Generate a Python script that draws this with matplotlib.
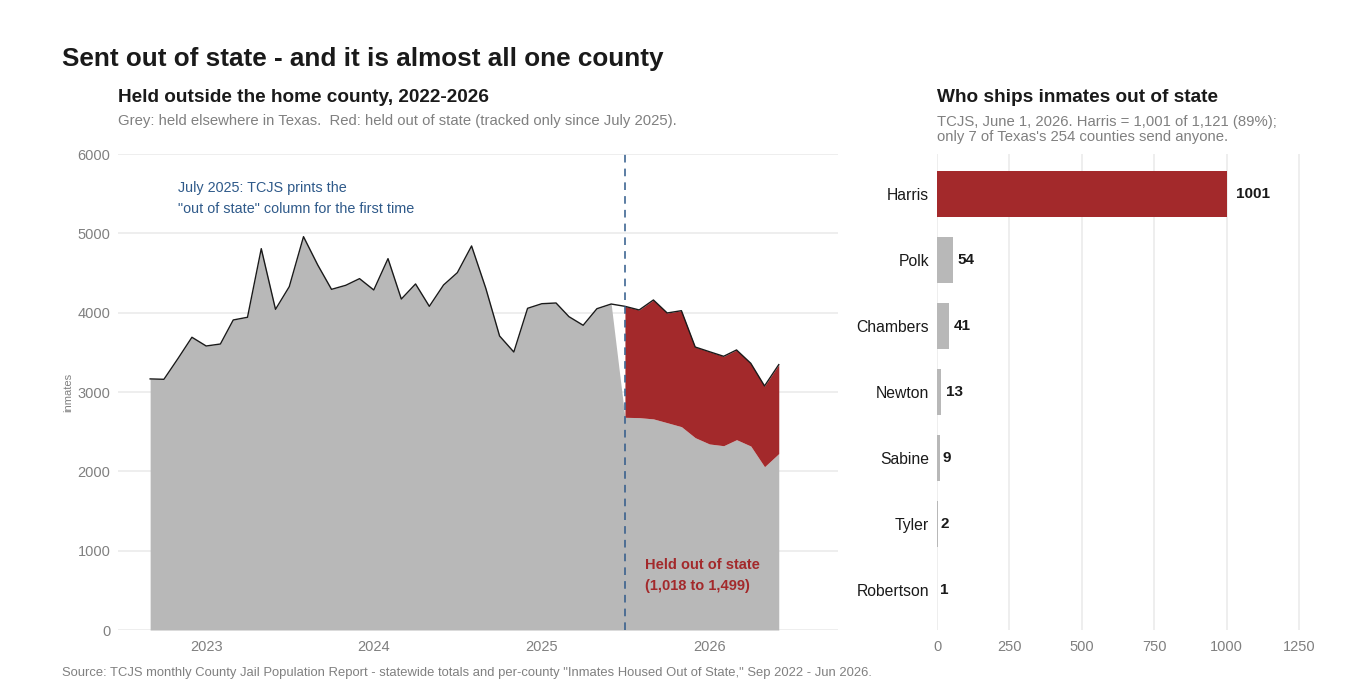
import pandas as pd
import numpy as np
import matplotlib
matplotlib.use("Agg")
import matplotlib.pyplot as plt
import matplotlib.dates as mdates

plt.rcParams['font.family'] = ['Liberation Sans', 'DejaVu Sans']

# Monthly statewide "held outside home county", Sep 2022 - Jun 2026
months = pd.date_range("2022-09-01", periods=46, freq="MS")
total_outside = [3165, 3160, 3425, 3690,
                 3580, 3605, 3908, 3942, 4807, 4042, 4328, 4958, 4601, 4294, 4345, 4429,
                 4286, 4681, 4172, 4362, 4080, 4349, 4504, 4841, 4307, 3706, 3504, 4055,
                 4113, 4122, 3950, 3841, 4050, 4109, 4080, 4034, 4160, 3996, 4025, 3567,
                 3508, 3450, 3530, 3362, 3076, 3345]
# out-of-state column, tracked from July 2025
oos_start = "2025-07-01"
out_of_state = [1399, 1357, 1499, 1383, 1462, 1143, 1163, 1127, 1131, 1043, 1018, 1121]

# counties shipping inmates out of state, June 1 2026
counties = ["Harris", "Polk", "Chambers", "Newton", "Sabine", "Tyler", "Robertson"]
county_counts = [1001, 54, 41, 13, 9, 2, 1]

GREY = "#b8b8b8"
RED = "#a3292b"
BLUE = "#2f5a8a"
GRID = "#ebebeb"
TICK = "#808080"

df = pd.DataFrame({"month": months, "total": total_outside})
df["oos"] = np.nan
oos_idx = df.index[df["month"] >= pd.Timestamp(oos_start)]
df.loc[oos_idx, "oos"] = out_of_state
df["grey"] = np.where(df["oos"].isna(), df["total"], df["total"] - df["oos"])

fig = plt.figure(figsize=(13.6, 6.96), dpi=100)
ax = fig.add_axes([118 / 1360, 1 - 630 / 696, 720 / 1360, 476 / 696])
ax2 = fig.add_axes([937 / 1360, 1 - 630 / 696, 365 / 1360, 476 / 696])

# left panel: area chart
ax.fill_between(df["month"], 0, df["grey"], color=GREY, linewidth=0, zorder=2)
red = df.loc[oos_idx]
ax.fill_between(red["month"], red["grey"], red["total"], color=RED, linewidth=0, zorder=2)
ax.plot(df["month"], df["total"], color="#1a1a1a", linewidth=1.0, zorder=3)
ax.axvline(pd.Timestamp(oos_start), color=BLUE, linestyle=(0, (5, 4)), linewidth=1.1, zorder=4)

ax.set_xlim(pd.Timestamp("2022-06-23"), pd.Timestamp("2026-10-08"))
ax.set_ylim(0, 6000)
ax.set_yticks(range(0, 6001, 1000))
ax.xaxis.set_major_locator(mdates.YearLocator())
ax.xaxis.set_major_formatter(mdates.DateFormatter("%Y"))
ax.grid(axis="y", color=GRID, linewidth=1.2, zorder=0)
ax.grid(axis="x", visible=False)
ax.set_axisbelow(True)
for s in ax.spines.values():
    s.set_visible(False)
ax.tick_params(length=0, colors=TICK, labelsize=10.5)
ax.tick_params(axis="y", pad=5.5)
ax.tick_params(axis="x", pad=7)
ax.set_ylabel("inmates", color=TICK, fontsize=8, labelpad=3)

ax.text(pd.Timestamp("2022-11-01"), 5440, "July 2025: TCJS prints the\n\"out of state\" column for the first time",
        color=BLUE, fontsize=10.4, va="center", ha="left", linespacing=1.6)
ax.text(pd.Timestamp("2025-08-14"), 690, "Held out of state\n(1,018 to 1,499)",
        color=RED, fontsize=10.5, fontweight="bold", va="center", ha="left", linespacing=1.62)

# right panel: counties
ypos = np.arange(len(counties))
colors = [RED] + [GREY] * (len(counties) - 1)
ax2.barh(ypos, county_counts, height=0.7, color=colors, zorder=2)
for y, v in zip(ypos, county_counts):
    ax2.annotate(str(v), (v, y), xytext=(0.4 + 1.6 * len(str(v)), 0), textcoords="offset points",
                 va="center", ha="left", fontsize=11, fontweight="bold", color="#1a1a1a")
ax2.set_yticks(ypos)
ax2.set_yticklabels(counties)
ax2.set_ylim(len(counties) - 0.4, -0.6)
ax2.set_xlim(0, 1260)
ax2.set_xticks([0, 250, 500, 750, 1000, 1250])
ax2.grid(axis="x", color=GRID, linewidth=1.2, zorder=0)
ax2.grid(axis="y", visible=False)
ax2.set_axisbelow(True)
for s in ax2.spines.values():
    s.set_visible(False)
ax2.tick_params(axis="x", length=0, colors=TICK, labelsize=10.5, pad=7)
ax2.tick_params(axis="y", length=0, labelsize=11.3, labelcolor="#1a1a1a", pad=5.8)

# titles
fig.text(62 / 1360, 1 - 59 / 696, "Sent out of state - and it is almost all one county",
         fontsize=18.8, fontweight="bold", color="#1a1a1a", va="center", ha="left")
fig.text(118 / 1360, 1 - 97 / 696, "Held outside the home county, 2022-2026",
         fontsize=13.7, fontweight="bold", color="#1a1a1a", va="center", ha="left")
fig.text(118 / 1360, 1 - 121 / 696,
         "Grey: held elsewhere in Texas.  Red: held out of state (tracked only since July 2025).",
         fontsize=10.7, color=TICK, va="center", ha="left")
fig.text(937 / 1360, 1 - 97 / 696, "Who ships inmates out of state",
         fontsize=13.7, fontweight="bold", color="#1a1a1a", va="center", ha="left")
fig.text(937 / 1360, 1 - 129.5 / 696,
         "TCJS, June 1, 2026. Harris = 1,001 of 1,121 (89%);\nonly 7 of Texas's 254 counties send anyone.",
         fontsize=10.75, color=TICK, va="center", ha="left", linespacing=1.12)
fig.text(62 / 1360, 1 - 673 / 696,
         "Source: TCJS monthly County Jail Population Report - statewide totals and per-county "
         "\"Inmates Housed Out of State,\" Sep 2022 - Jun 2026.",
         fontsize=9.4, color=TICK, va="center", ha="left")

fig.savefig("out.png", dpi=100)
